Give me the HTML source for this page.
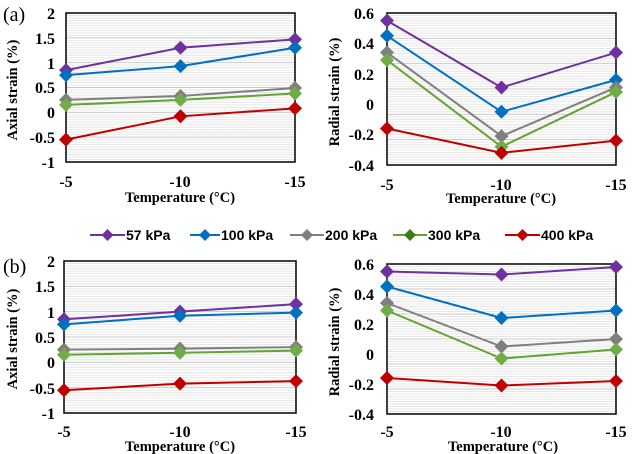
<!DOCTYPE html>
<html><head><style>
body{margin:0;background:#fff}
svg{display:block}
.t{font-family:"Liberation Serif",serif;font-weight:bold;font-size:16px;fill:#000}
.ti{font-family:"Liberation Serif",serif;font-weight:bold;font-size:14.5px;fill:#000}
.lg{font-family:"Liberation Sans",sans-serif;font-weight:bold;font-size:14px;fill:#000}
.pl{font-family:"Liberation Serif",serif;font-size:20px;fill:#000}
</style></head><body>
<svg id="s" width="632" height="454" xmlns="http://www.w3.org/2000/svg">
<g id="g"></g>
<text class="pl" x="3" y="21">(a)</text>
<text class="pl" x="3" y="273">(b)</text>
<g class="t" text-anchor="end">
<text x="55" y="19">2</text><text x="55" y="44">1.5</text><text x="55" y="69">1</text><text x="55" y="93">0.5</text><text x="55" y="118">0</text><text x="55" y="143">-0.5</text><text x="55" y="168">-1</text>
<text x="374" y="19">0.6</text><text x="374" y="49">0.4</text><text x="374" y="80">0.2</text><text x="374" y="110">0</text><text x="374" y="140">-0.2</text><text x="374" y="171">-0.4</text>
<text x="55" y="267">2</text><text x="55" y="292">1.5</text><text x="55" y="318">1</text><text x="55" y="343">0.5</text><text x="55" y="368">0</text><text x="55" y="394">-0.5</text><text x="55" y="419">-1</text>
<text x="374" y="270">0.6</text><text x="374" y="300">0.4</text><text x="374" y="330">0.2</text><text x="374" y="360">0</text><text x="374" y="390">-0.2</text><text x="374" y="420">-0.4</text>
</g>
<g class="t" text-anchor="middle">
<text x="66" y="187">-5</text><text x="180" y="187">-10</text><text x="295" y="187">-15</text>
<text x="387" y="190">-5</text><text x="501" y="190">-10</text><text x="616" y="190">-15</text>
<text x="64" y="437">-5</text><text x="180" y="437">-10</text><text x="296" y="437">-15</text>
<text x="387" y="437">-5</text><text x="501" y="437">-10</text><text x="616" y="437">-15</text>
</g>
<g class="ti" text-anchor="middle">
<text x="180" y="202">Temperature (°C)</text>
<text x="501" y="203">Temperature (°C)</text>
<text x="180" y="451">Temperature (°C)</text>
<text x="503" y="451">Temperature (°C)</text>
<text transform="translate(17,90) rotate(-90)">Axial strain (%)</text>
<text transform="translate(339,92) rotate(-90)">Radial strain (%)</text>
<text transform="translate(17,339) rotate(-90)">Axial strain (%)</text>
<text transform="translate(339,342) rotate(-90)">Radial strain (%)</text>
</g>
<g class="lg">
<text x="126" y="240">57 kPa</text><text x="221" y="240">100 kPa</text><text x="325" y="240">200 kPa</text><text x="428" y="240">300 kPa</text><text x="541" y="240">400 kPa</text>
</g>
</svg>
<script>
var g=document.getElementById('g'),NS='http://www.w3.org/2000/svg';
function el(n,a){var e=document.createElementNS(NS,n);for(var k in a)e.setAttribute(k,a[k]);g.appendChild(e);return e;}
var C=['#7030a0','#0070c0','#7f7f7f','#5fa52e','#c00000'],MC=['#7030a0','#0070c0','#7f7f7f','#3d7d1e','#c00000'];
function dia(x,y,c,r){el('polygon',{points:(x)+','+(y-r)+' '+(x+r)+','+y+' '+x+','+(y+r)+' '+(x-r)+','+y,fill:c});}
function panel(x0,x1,y0,y1,vmax,vmin,data){
 var n=60;for(var i=1;i<n;i++){var y=y0+(y1-y0)*i/n;el('line',{x1:x0,x2:x1,y1:y,y2:y,stroke:i%10==0?'#c8c8c8':'#e6e6e6','stroke-width':1});}
 el('rect',{x:x0,y:y0,width:x1-x0,height:y1-y0,fill:'none',stroke:'#000','stroke-width':1.5});
 var xs=[x0,(x0+x1)/2,x1];function Y(v){return y0+(vmax-v)/(vmax-vmin)*(y1-y0);}
 data.forEach(function(d,k){el('polyline',{points:d.map(function(v,i){return xs[i]+','+Y(v)}).join(' '),fill:'none',stroke:C[k],'stroke-width':2});});
 data.forEach(function(d,k){d.forEach(function(v,i){dia(xs[i],Y(v),k==3?'#70ad47':C[k],7);});});
}
panel(66,295,13,162,2,-1,[[.85,1.3,1.47],[.75,.93,1.3],[.25,.33,.49],[.15,.25,.38],[-.55,-.08,.08]]);
panel(387,616,13,165,.6,-.4,[[.55,.11,.34],[.45,-.05,.16],[.34,-.21,.11],[.29,-.28,.08],[-.16,-.32,-.24]]);
panel(64,296,261,413,2,-1,[[.85,1.0,1.15],[.75,.92,.98],[.25,.27,.3],[.15,.19,.23],[-.55,-.42,-.37]]);
panel(387,616,264,414,.6,-.4,[[.55,.53,.58],[.45,.24,.29],[.34,.05,.1],[.29,-.03,.03],[-.16,-.21,-.18]]);
[[90,125],[190,220],[290,324],[393,427],[505,540]].forEach(function(p,k){el('line',{x1:p[0],x2:p[1],y1:235,y2:235,stroke:C[k],'stroke-width':2});dia((p[0]+p[1])/2,235,MC[k],6);});
</script>
</body></html>
